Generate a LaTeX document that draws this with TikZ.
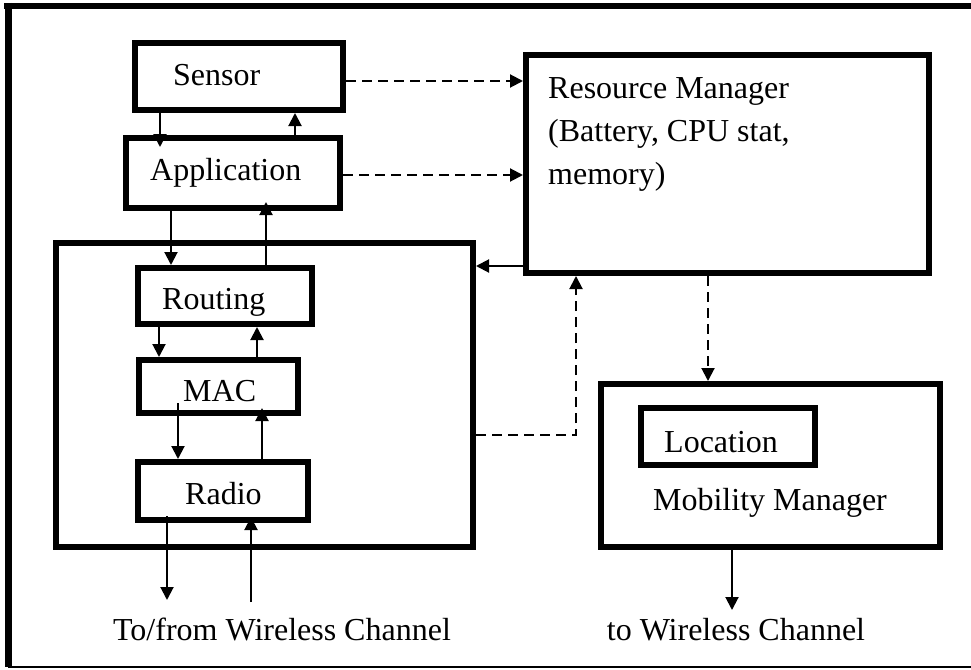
\documentclass[tikz,border=0pt]{standalone}
\usepackage{fontspec}
\setmainfont{Liberation Serif}
\usetikzlibrary{arrows.meta}

\begin{document}
\begin{tikzpicture}[x=1pt,y=-1pt,
blk/.style={draw,line width=6pt,inner sep=0pt},
txt/.style={font=\fontsize{32}{43}\selectfont,inner sep=0pt},
arr/.style={line width=2pt,-{Triangle[length=13pt,width=13pt]}},
darr/.style={arr,dash pattern=on 10pt off 6pt}]
\useasboundingbox(0,0)rectangle(971,669);
% frame
\draw[line width=6pt](4,6)--(971,6);
\draw[line width=7pt](8,3)--(8,667);
\draw[line width=1.5pt](8,667)--(971,667);
% node stack
\node[blk,minimum width=208.5pt,minimum height=67pt](sensor)at(238.75,76.5){};
\node[blk,minimum width=214pt,minimum height=70pt](app)at(233,173){};
\node[blk,minimum width=417pt,minimum height=304pt](stack)at(264.5,395){};
\node[blk,minimum width=174pt,minimum height=56pt](routing)at(225,296){};
\node[blk,minimum width=159pt,minimum height=53pt](mac)at(218.5,386.5){};
\node[blk,minimum width=170pt,minimum height=58pt](radio)at(223,491){};
\node[txt,anchor=base west](sensortxt)at(173,85){Sensor};
\node[txt,anchor=base west](apptxt)at(150,180){Application};
\node[txt,anchor=base west](routingtxt)at(162,309){Routing};
\node[txt,anchor=base west](mactxt)at(183,401){MAC};
\node[txt,anchor=base west](radiotxt)at(185,504){Radio};
% managers
\node[blk,minimum width=403pt,minimum height=218pt](res)at(727.5,164){};
\node[txt,align=left,anchor=north west](restxt)at(548,77){Resource Manager\\(Battery, CPU stat,\\memory)};
\node[blk,minimum width=339pt,minimum height=163pt](mob)at(770.5,465.5){};
\node[blk,minimum width=174pt,minimum height=57pt](loc)at(728,436.5){};
\node[txt,anchor=base west](loctxt)at(664,452){Location};
\node[txt,anchor=base](mobtxt)at(770,510){Mobility Manager};
% channel
\coordinate(chout)at(167,600);\coordinate(chin)at(251,602);\coordinate(mobout)at(732,610);
\node[txt,anchor=base](chtxt)at(282,640){To/from Wireless Channel};
\node[txt,anchor=base](mobchtxt)at(736,640){to Wireless Channel};
% arrows
\draw[arr](sensor.south-|160,0)--([yshift=-12pt]app.north-|160,0);
\draw[arr](app.north-|295,0)--(sensor.south-|295,0);
\draw[arr](app.south-|171,0)--(routing.north-|171,0);
\draw[arr](routing.north-|266,0)--([yshift=9pt]app.south-|266,0);
\draw[arr](routing.south-|159,0)--(mac.north-|159,0);
\draw[arr](mac.north-|257,0)--(routing.south-|257,0);
\draw[arr]([yshift=13pt]mac.south-|178,0)--(radio.north-|178,0);
\draw[arr](radio.north-|262,0)--([yshift=8pt]mac.south-|262,0);
\draw[arr]([yshift=7pt]radio.south-|167,0)--(chout);
\draw[arr](chin)--([yshift=6pt]radio.south-|251,0);
\draw[arr](mob.south-|732,0)--(mobout);
\draw[darr](sensor.east|-0,81)--(res.west|-0,81);
\draw[darr](app.east|-0,175)--(res.west|-0,175);
\draw[arr](res.west|-0,266)--(stack.east|-0,266);
\draw[darr](stack.east|-0,435)-|(res.south-|576,0);
\draw[darr](res.south-|708,0)--(mob.north-|708,0);
\end{tikzpicture}
\end{document}
